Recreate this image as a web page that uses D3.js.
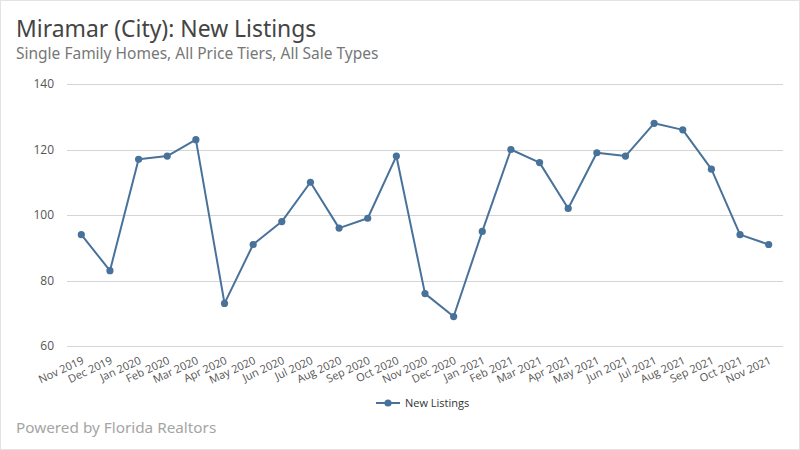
<!DOCTYPE html>
<html>
<head>
<meta charset="utf-8">
<script src="https://cdn.jsdelivr.net/npm/d3@7"></script>
<style>
  html, body { margin: 0; padding: 0; background: #fff; }
  svg { display: block; }
</style>
</head>
<body>
<svg id="chart" width="800" height="450"></svg>
<script>
const months = ["Nov 2019","Dec 2019","Jan 2020","Feb 2020","Mar 2020","Apr 2020","May 2020","Jun 2020","Jul 2020","Aug 2020","Sep 2020","Oct 2020","Nov 2020","Dec 2020","Jan 2021","Feb 2021","Mar 2021","Apr 2021","May 2021","Jun 2021","Jul 2021","Aug 2021","Sep 2021","Oct 2021","Nov 2021"];
const newListings = [94, 83, 117, 118, 123, 73, 91, 98, 110, 96, 99, 118, 76, 69, 95, 120, 116, 102, 119, 118, 128, 126, 114, 94, 91];
const yTicks = [60, 80, 100, 120, 140];
const seriesName = "New Listings";
const titleText = "Miramar (City): New Listings";
const subtitleText = "Single Family Homes, All Price Tiers, All Sale Types";
const footerText = "Powered by Florida Realtors";

const svg = d3.select("#chart");
const W = 800, H = 450;
const margin = { left: 67, right: 17, top: 84, bottom: 104 };
const color = "#49729a";
const font = "'Open Sans', 'Noto Sans', sans-serif";

svg.append("rect").attr("x", 0.5).attr("y", 0.5).attr("width", W - 1).attr("height", H - 1)
  .attr("fill", "#fff").attr("stroke", "#e3e3e3");

const x = d3.scaleBand().domain(months).range([margin.left, W - margin.right]);
const y = d3.scaleLinear().domain([60, 140]).range([H - margin.bottom, margin.top]);

// gridlines
svg.append("g").selectAll("line").data(yTicks).join("line")
  .attr("x1", margin.left).attr("x2", W - margin.right)
  .attr("y1", d => Math.round(y(d)) + 0.5).attr("y2", d => Math.round(y(d)) + 0.5)
  .attr("stroke", "#d4d4d4").attr("stroke-width", 1);

// y axis labels
const yAxis = d3.axisLeft(y).tickValues(yTicks).tickSize(0).tickPadding(13);
const gy = svg.append("g").attr("transform", `translate(${margin.left},0)`).call(yAxis);
gy.select(".domain").remove();
gy.selectAll("text").attr("font-family", font).attr("font-size", 12).attr("fill", "#555");

// x axis labels
const xAxis = d3.axisBottom(x).tickSize(0).tickPadding(0);
const gx = svg.append("g").attr("transform", `translate(0,${H - margin.bottom})`).call(xAxis);
gx.select(".domain").remove();
gx.selectAll("text")
  .attr("font-family", font).attr("font-size", 11).attr("fill", "#555")
  .attr("text-anchor", "end")
  .attr("transform", "translate(0,10) rotate(-25)")
  .attr("dy", "0.71em");

// line
const line = d3.line().x((d, i) => x(months[i]) + x.bandwidth() / 2).y(d => y(d));
svg.append("path").datum(newListings).attr("d", line)
  .attr("fill", "none").attr("stroke", color).attr("stroke-width", 2).attr("stroke-linejoin", "round");

svg.append("g").selectAll("circle").data(newListings).join("circle")
  .attr("cx", (d, i) => x(months[i]) + x.bandwidth() / 2)
  .attr("cy", d => y(d))
  .attr("r", 3.6).attr("fill", color);

// legend
const lg = svg.append("g").attr("transform", "translate(376,403)");
lg.append("line").attr("x1", 0).attr("x2", 24).attr("y1", 0).attr("y2", 0).attr("stroke", color).attr("stroke-width", 2);
lg.append("circle").attr("cx", 12).attr("cy", 0).attr("r", 3.6).attr("fill", color);
lg.append("text").attr("x", 29).attr("y", 4).text(seriesName)
  .attr("font-family", font).attr("font-size", 11).attr("fill", "#333");

// titles
svg.append("text").attr("x", 16).attr("y", 37).text(titleText)
  .attr("font-family", "'Noto Sans', sans-serif").attr("font-size", 22.9).attr("fill", "#444");
svg.append("text").attr("x", 16).attr("y", 59).text(subtitleText)
  .attr("font-family", "'Noto Sans', sans-serif").attr("font-size", 15.5).attr("fill", "#777");
svg.append("text").attr("x", 16).attr("y", 433).text(footerText)
  .attr("font-family", "'Noto Sans', sans-serif").attr("font-size", 15.3).attr("fill", "#a5a5a5");
</script>
</body>
</html>
